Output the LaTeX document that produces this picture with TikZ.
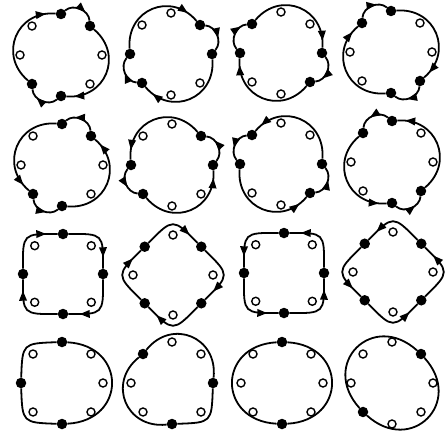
\documentclass[tikz,border=0pt]{standalone}
\usetikzlibrary{calc,decorations.markings,arrows.meta}
\tikzset{
  fdot/.style={circle,fill=black,inner sep=0pt,minimum size=10.5pt},
  odot/.style={circle,draw=black,fill=white,line width=1.4pt,inner sep=0pt,minimum size=8pt},
  loopline/.style={line width=1.8pt,draw=black},
  arrowat/.style={postaction={decorate,decoration={markings,mark=at position #1 with {\arrow{Triangle[length=10pt,width=7.5pt]}}}}},
}
% \mkcell{name}{cx}{cy}{ring radius}{k/style list}
\newcommand\mkcell[5]{%
  \coordinate (#1) at (#2,#3);
  \foreach \kk/\tp in {#5}{%
    \pgfmathsetmacro\cellang{\kk*45}%
    \node[\tp] (#1-\kk) at ($(#1)+(\cellang:#4)$) {};}%
}
% \seg{cell}{ka}{kb}{angA}{angB}{frac}{rho}{options}
\newcommand\seg[8]{%
  \pgfmathsetmacro\segP{#4+(#5-#4)*#6}%
  \pgfmathsetmacro\segQ{#5-(#5-#4)*#6}%
  \draw[loopline,#8] (#1-#2) .. controls ($(#1)+(\segP:#7)$) and ($(#1)+(\segQ:#7)$) .. (#1-#3);
}
% short (45 deg) and long (135 deg) pieces
\newcommand\sseg[6]{\seg{#1}{#2}{#3}{#4}{#5}{0.3}{53}{arrowat=#6}}
\newcommand\lseg[6]{\seg{#1}{#2}{#3}{#4}{#5}{0.3333}{63}{arrowat=#6}}
\newcommand\qseg[5]{\seg{#1}{#2}{#3}{#4}{#5}{0.5}{57}{arrowat=0.82}}
\begin{document}
\begin{tikzpicture}[x=1pt,y=-1pt]
\useasboundingbox (0,0) rectangle (447,436);
% ---------- row 1 (clockwise)
\mkcell{c11}{61}{55}{41}{0/odot,1/odot,2/fdot,3/fdot,4/odot,5/odot,6/fdot,7/fdot}
\sseg{c11}{6}{7}{270}{315}{0.7}
\lseg{c11}{7}{2}{315}{450}{0.92}
\sseg{c11}{2}{3}{90}{135}{0.7}
\lseg{c11}{3}{6}{135}{270}{0.9}

\mkcell{c12}{171}{54}{41}{0/fdot,1/odot,2/odot,3/fdot,4/fdot,5/odot,6/odot,7/fdot}
\lseg{c12}{4}{7}{180}{315}{0.88}
\sseg{c12}{7}{0}{315}{360}{0.6}
\lseg{c12}{0}{3}{0}{135}{0.9}
\sseg{c12}{3}{4}{135}{180}{0.5}

\mkcell{c13}{281}{53}{41}{0/fdot,1/fdot,2/odot,3/odot,4/fdot,5/fdot,6/odot,7/odot}
\sseg{c13}{4}{5}{180}{225}{0.8}
\lseg{c13}{5}{0}{225}{360}{0.93}
\sseg{c13}{0}{1}{0}{45}{0.75}
\lseg{c13}{1}{4}{45}{180}{0.93}

\mkcell{c14}{391}{52}{41}{0/odot,1/fdot,2/fdot,3/odot,4/odot,5/fdot,6/fdot,7/odot}
\sseg{c14}{5}{6}{225}{270}{0.65}
\lseg{c14}{6}{1}{270}{405}{0.93}
\sseg{c14}{1}{2}{45}{90}{0.6}
\lseg{c14}{2}{5}{90}{225}{0.92}
% ---------- row 2 (counter-clockwise)
\mkcell{c21}{62}{165}{41}{0/odot,1/odot,2/fdot,3/fdot,4/odot,5/odot,6/fdot,7/fdot}
\lseg{c21}{6}{3}{270}{135}{0.92}
\sseg{c21}{3}{2}{135}{90}{0.6}
\lseg{c21}{2}{7}{90}{-45}{0.93}
\sseg{c21}{7}{6}{-45}{-90}{0.7}

\mkcell{c22}{172}{165}{41}{0/fdot,1/odot,2/odot,3/fdot,4/fdot,5/odot,6/odot,7/fdot}
\lseg{c22}{7}{4}{315}{180}{0.9}
\sseg{c22}{4}{3}{180}{135}{0.6}
\lseg{c22}{3}{0}{135}{0}{0.92}
\sseg{c22}{0}{7}{0}{-45}{0.7}

\mkcell{c23}{281}{164}{41}{0/fdot,1/fdot,2/odot,3/odot,4/fdot,5/fdot,6/odot,7/odot}
\lseg{c23}{0}{5}{360}{225}{0.92}
\sseg{c23}{5}{4}{225}{180}{0.6}
\lseg{c23}{4}{1}{180}{45}{0.9}
\sseg{c23}{1}{0}{45}{0}{0.6}

\mkcell{c24}{392}{162}{41}{0/odot,1/fdot,2/fdot,3/odot,4/odot,5/fdot,6/fdot,7/odot}
\lseg{c24}{1}{6}{405}{270}{0.92}
\sseg{c24}{6}{5}{270}{225}{0.6}
\lseg{c24}{5}{2}{225}{90}{0.92}
\sseg{c24}{2}{1}{90}{45}{0.65}
% ---------- row 3
\mkcell{c31}{63}{274}{40}{0/fdot,1/odot,2/fdot,3/odot,4/fdot,5/odot,6/fdot,7/odot}
\qseg{c31}{4}{6}{180}{270}
\qseg{c31}{6}{0}{270}{360}
\qseg{c31}{0}{2}{0}{90}
\qseg{c31}{2}{4}{90}{180}

\mkcell{c32}{173}{275}{40}{0/odot,1/fdot,2/odot,3/fdot,4/odot,5/fdot,6/odot,7/fdot}
\qseg{c32}{5}{7}{225}{315}
\qseg{c32}{7}{1}{315}{405}
\qseg{c32}{1}{3}{45}{135}
\qseg{c32}{3}{5}{135}{225}

\mkcell{c33}{284}{273}{40}{0/fdot,1/odot,2/fdot,3/odot,4/fdot,5/odot,6/fdot,7/odot}
\qseg{c33}{0}{6}{360}{270}
\qseg{c33}{6}{4}{270}{180}
\qseg{c33}{4}{2}{180}{90}
\qseg{c33}{2}{0}{90}{0}

\mkcell{c34}{393}{272}{40}{0/odot,1/fdot,2/odot,3/fdot,4/odot,5/fdot,6/odot,7/fdot}
\qseg{c34}{7}{5}{315}{225}
\qseg{c34}{5}{3}{225}{135}
\qseg{c34}{3}{1}{135}{45}
\qseg{c34}{1}{7}{45}{-45}
% ---------- row 4 (no arrows)
\mkcell{c41}{62}{383}{41}{0/odot,1/odot,2/fdot,3/odot,4/fdot,5/odot,6/fdot,7/odot}
\seg{c41}{2}{4}{90}{180}{0.5}{56}{}
\seg{c41}{4}{6}{180}{270}{0.5}{56}{}
\seg{c41}{6}{2}{270}{450}{0.3333}{75}{}

\mkcell{c42}{172}{383}{41}{0/fdot,1/odot,2/fdot,3/odot,4/odot,5/fdot,6/odot,7/odot}
\seg{c42}{5}{0}{225}{360}{0.3333}{65}{}
\seg{c42}{0}{2}{0}{90}{0.5}{56}{}
\seg{c42}{2}{5}{90}{225}{0.3333}{65}{}

\mkcell{c43}{282}{383}{41}{0/odot,1/odot,2/fdot,3/odot,4/odot,5/odot,6/fdot,7/odot}
\seg{c43}{6}{2}{270}{450}{0.3333}{75}{}
\seg{c43}{2}{6}{90}{270}{0.3333}{75}{}

\mkcell{c44}{392}{383}{41}{0/odot,1/odot,2/odot,3/fdot,4/odot,5/odot,6/odot,7/fdot}
\seg{c44}{7}{3}{315}{495}{0.3333}{75}{}
\seg{c44}{3}{7}{135}{315}{0.3333}{75}{}
\end{tikzpicture}
\end{document}
